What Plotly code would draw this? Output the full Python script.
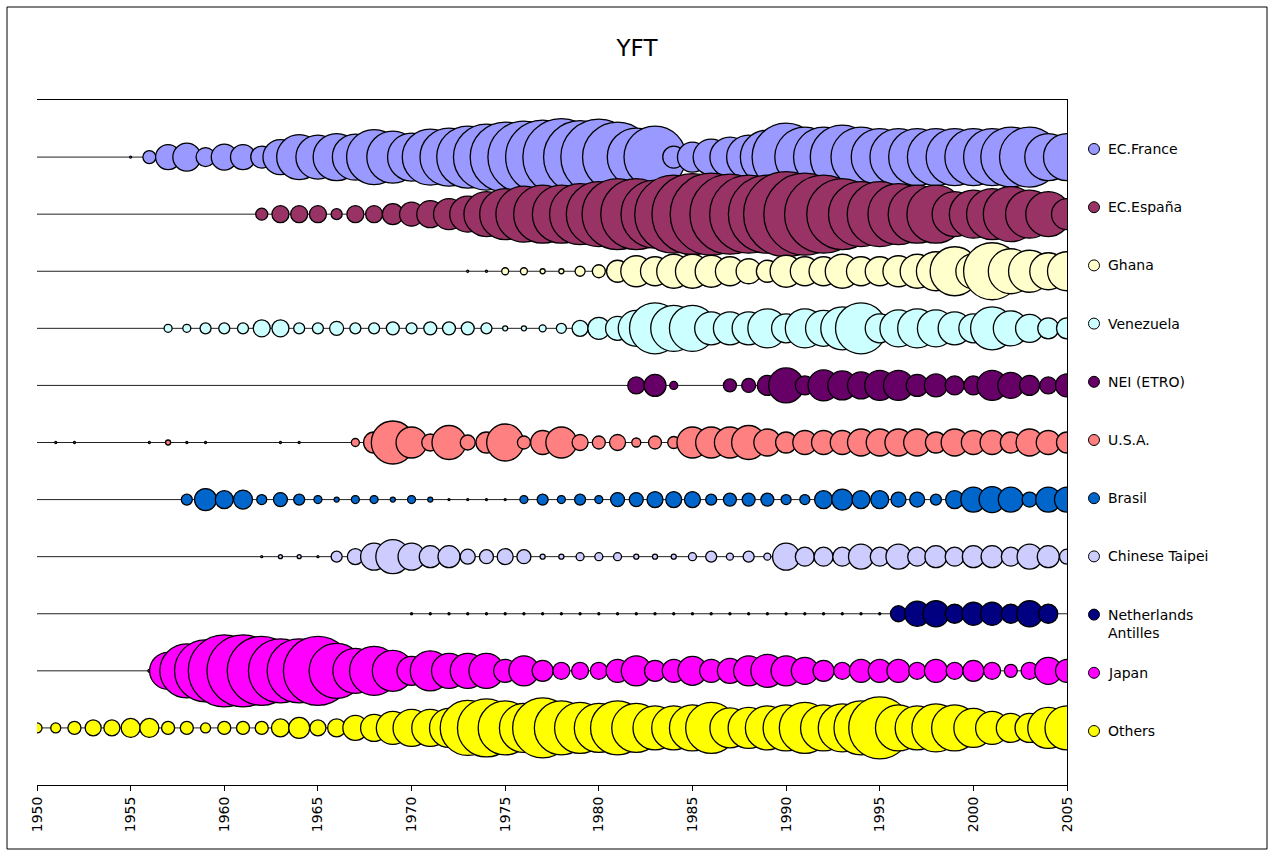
import plotly.graph_objects as go

# ---------------- data ----------------
years = list(range(1950, 2006))

fleet_names = ["EC.France", "EC.España", "Ghana", "Venezuela", "NEI (ETRO)", "U.S.A.",
               "Brasil", "Chinese Taipei", "Netherlands Antilles", "Japan", "Others"]
legend_labels = ["EC.France", "EC.España", "Ghana", "Venezuela", "NEI (ETRO)", "U.S.A.",
                 "Brasil", "Chinese Taipei", "Netherlands<br>Antilles", "Japan", "Others"]
fleet_colors = ["#9999FF", "#993366", "#FFFFCC", "#CCFFFF", "#660066", "#FF8080",
                "#0066CC", "#CCCCFF", "#000080", "#FF00FF", "#FFFF00"]
row_levels = [11, 10, 9, 8, 7, 6, 5, 4, 3, 2, 1]

# relative bubble size per year (1950..2005), 0 = no catch
ec_france = [0, 0, 0, 0, 0, 2, 13, 25, 28, 19,
             26, 25, 22, 35, 45, 44, 47, 46, 55, 52,
             48, 56, 58, 62, 66, 70, 72, 74, 77, 73,
             76, 70, 58, 62, 22, 30, 36, 40, 44, 54,
             68, 60, 60, 64, 60, 57, 57, 57, 57, 57,
             57, 57, 60, 60, 47, 47]
ec_espana = [0, 0, 0, 0, 0, 0, 0, 0, 0, 0,
             0, 0, 12, 17, 17, 17, 11, 17, 17, 21,
             24, 27, 31, 36, 45, 51, 56, 58, 58, 61,
             65, 71, 71, 68, 78, 81, 82, 80, 78, 78,
             85, 82, 78, 71, 65, 65, 61, 58, 58, 45,
             48, 51, 55, 48, 45, 31]
ghana = [0, 0, 0, 0, 0, 0, 0, 0, 0, 0,
         0, 0, 0, 0, 0, 0, 0, 0, 0, 0,
         0, 0, 0, 2, 2, 7, 7, 5, 5, 10,
         13, 22, 31, 29, 34, 34, 32, 29, 25, 22,
         32, 29, 29, 34, 29, 29, 31, 34, 39, 49,
         35, 57, 45, 42, 37, 39]
venezuela = [0, 0, 0, 0, 0, 0, 0, 8, 8, 11,
             11, 11, 17, 17, 11, 11, 14, 11, 11, 13,
             11, 13, 13, 13, 11, 5, 5, 7, 10, 16,
             22, 24, 36, 51, 46, 46, 33, 33, 33, 39,
             29, 39, 36, 43, 51, 29, 37, 39, 37, 33,
             29, 43, 35, 28, 21, 21]
nei_etro = [0, 0, 0, 0, 0, 0, 0, 0, 0, 0,
            0, 0, 0, 0, 0, 0, 0, 0, 0, 0,
            0, 0, 0, 0, 0, 0, 0, 0, 0, 0,
            0, 0, 17, 22, 8, 0, 0, 13, 14, 20,
            35, 19, 31, 29, 27, 30, 30, 22, 23, 19,
            19, 30, 26, 20, 17, 23]
usa = [0, 2, 2, 0, 0, 0, 2, 5, 2, 2,
       0, 0, 0, 2, 2, 0, 0, 8, 21, 43,
       31, 17, 34, 15, 21, 37, 13, 24, 31, 16,
       13, 16, 9, 13, 12, 31, 31, 31, 34, 27,
       21, 24, 24, 24, 27, 27, 27, 27, 21, 27,
       24, 24, 21, 27, 24, 21]
brasil = [0, 0, 0, 0, 0, 0, 0, 0, 11, 22,
          18, 19, 10, 14, 11, 8, 5, 8, 8, 5,
          8, 5, 2, 2, 2, 2, 8, 11, 8, 11,
          8, 14, 14, 16, 16, 16, 11, 13, 13, 13,
          10, 10, 18, 21, 18, 18, 15, 15, 11, 18,
          25, 26, 25, 15, 25, 25]
chinese_taipei = [0, 0, 0, 0, 0, 0, 0, 0, 0, 0,
                  0, 0, 2, 4, 4, 2, 11, 16, 27, 34,
                  27, 22, 22, 15, 14, 16, 14, 5, 5, 8,
                  8, 8, 5, 5, 5, 8, 11, 7, 11, 7,
                  27, 19, 19, 19, 25, 19, 25, 19, 22, 19,
                  22, 22, 19, 25, 22, 15]
neth_antilles = [0, 0, 0, 0, 0, 0, 0, 0, 0, 0,
                 0, 0, 0, 0, 0, 0, 0, 0, 0, 0,
                 2, 2, 2, 2, 2, 2, 2, 2, 2, 2,
                 2, 2, 2, 2, 2, 2, 2, 2, 2, 2,
                 2, 2, 2, 2, 2, 2, 16, 25, 26, 19,
                 23, 23, 19, 26, 19, 0]
japan = [0, 0, 0, 0, 0, 0, 3, 37, 54, 62,
         72, 72, 69, 64, 64, 69, 55, 45, 49, 41,
         29, 40, 35, 35, 35, 23, 30, 21, 17, 17,
         17, 23, 30, 21, 23, 29, 23, 25, 30, 33,
         30, 27, 21, 17, 23, 23, 23, 17, 23, 17,
         21, 17, 13, 17, 27, 23]
others = [10, 10, 13, 16, 16, 19, 19, 13, 13, 10,
          13, 13, 13, 18, 21, 16, 18, 25, 27, 33,
          37, 37, 39, 55, 58, 54, 49, 60, 54, 51,
          49, 54, 49, 44, 44, 46, 51, 40, 41, 44,
          46, 51, 46, 48, 54, 62, 46, 44, 48, 46,
          39, 33, 29, 29, 41, 44]

fleet_sizes = [ec_france, ec_espana, ghana, venezuela, nei_etro, usa,
               brasil, chinese_taipei, neth_antilles, japan, others]

tick_years = [1950, 1955, 1960, 1965, 1970, 1975, 1980, 1985, 1990, 1995, 2000, 2005]

# ---------------- figure ----------------
FONT = "DejaVu Sans"
W, H = 1274, 856
L, R, T, B = 37, 207, 100, 71
PW, PH = W - L - R, H - T - B

fig = go.Figure()

# thin horizontal guide line on every row
for name, lvl in zip(fleet_names, row_levels):
    fig.add_trace(go.Scatter(
        x=[years[0], years[-1]], y=[lvl, lvl], mode="lines",
        line=dict(color="#222222", width=1), showlegend=False, hoverinfo="skip"))

# bubbles
for name, lvl, col, sizes in zip(fleet_names, row_levels, fleet_colors, fleet_sizes):
    xs = [yr for yr, s in zip(years, sizes) if s > 0]
    ss = [s for s in sizes if s > 0]
    fig.add_trace(go.Scatter(
        x=xs, y=[lvl] * len(xs), mode="markers", name=name,
        marker=dict(size=ss, sizemode="diameter", sizeref=1, color=col,
                    opacity=1, line=dict(color="black", width=1.3)),
        showlegend=False))

# manual legend (markers + text), aligned with rows
def px_to_paper_x(px):
    return (px - L) / PW

def px_to_paper_y(py):
    return (H - B - py) / PH

shapes = []
annotations = []
for i, (lab, col) in enumerate(zip(legend_labels, fleet_colors)):
    ym = 149 + i * 58.2
    shapes.append(dict(type="circle", xref="paper", yref="paper",
                       xsizemode="pixel", ysizemode="pixel",
                       xanchor=px_to_paper_x(1094), yanchor=px_to_paper_y(ym),
                       x0=-5.5, x1=5.5, y0=-5.5, y1=5.5,
                       fillcolor=col, line=dict(color="black", width=1)))
    if "<br>" in lab:
        annotations.append(dict(text=lab, xref="paper", yref="paper",
                                x=px_to_paper_x(1106), y=px_to_paper_y(ym - 10),
                                xanchor="left", yanchor="top", align="left",
                                showarrow=False, font=dict(family=FONT, size=14, color="black")))
    else:
        annotations.append(dict(text=lab, xref="paper", yref="paper",
                                x=px_to_paper_x(1106), y=px_to_paper_y(ym),
                                xanchor="left", yanchor="middle", align="left",
                                showarrow=False, font=dict(family=FONT, size=14, color="black")))

# outer chart frame
shapes.append(dict(type="rect", xref="paper", yref="paper",
                   x0=px_to_paper_x(7), x1=px_to_paper_x(1267),
                   y0=px_to_paper_y(849), y1=px_to_paper_y(7),
                   line=dict(color="black", width=1), fillcolor="rgba(0,0,0,0)", layer="below"))

fig.update_layout(
    width=W, height=H,
    margin=dict(l=L, r=R, t=T, b=B, pad=0),
    paper_bgcolor="white", plot_bgcolor="white",
    font=dict(family=FONT, size=14, color="black"),
    title=dict(text="YFT", x=0.5, xref="container", xanchor="center",
               y=1 - 48 / H, yref="container", yanchor="middle",
               font=dict(family=FONT, size=23, color="black")),
    showlegend=False,
    shapes=shapes,
    annotations=annotations,
    xaxis=dict(range=[1950, 2005], tickmode="array", tickvals=tick_years,
               ticktext=[str(t) for t in tick_years], tickangle=-90,
               ticks="outside", ticklen=5, tickcolor="black", tickwidth=1,
               showline=True, linecolor="black", linewidth=1, mirror=True,
               showgrid=False, zeroline=False, automargin=False,
               tickfont=dict(family=FONT, size=14, color="black")),
    yaxis=dict(range=[0, 12], showticklabels=False, ticks="", side="right",
               showline=True, linecolor="black", linewidth=1,
               showgrid=False, zeroline=False, automargin=False),
)

fig.write_html("out.html", config={"displayModeBar": False},
               post_script="document.body.style.margin='0';")
